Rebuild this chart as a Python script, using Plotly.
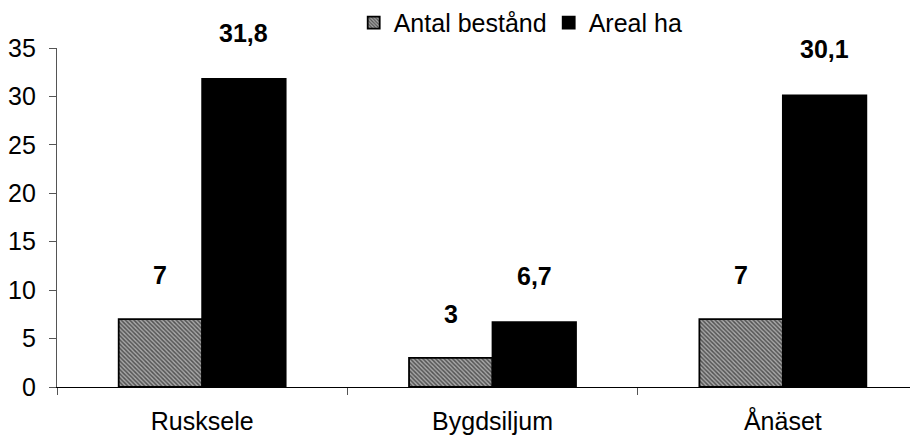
import plotly.graph_objects as go

categories = ["Rusksele", "Bygdsiljum", "Ånäset"]
antal = [7, 3, 7]
areal = [31.8, 6.7, 30.1]
antal_labels = ["7", "3", "7"]
areal_labels = ["31,8", "6,7", "30,1"]
y_ticks = [0, 5, 10, 15, 20, 25, 30, 35]

xpos = list(range(len(categories)))
FONT = "Liberation Sans, Arial, sans-serif"
FS = 25

fig = go.Figure()
fig.add_trace(go.Bar(
    x=xpos, y=antal, name="Antal bestånd",
    marker=dict(color="white", line=dict(color="black", width=1.8),
                pattern=dict(shape="\\", fgcolor="black", bgcolor="#a8a8a8",
                             size=3, solidity=0.5)),
))
fig.add_trace(go.Bar(
    x=xpos, y=areal, name="Areal ha",
    marker=dict(color="black", line=dict(color="black", width=1.8)),
))

bw = 0.2875
annotations = []
for i in xpos:
    annotations.append(dict(x=i - bw / 2, y=antal[i], text="<b>%s</b>" % antal_labels[i],
                            showarrow=False, yshift=44, xref="x", yref="y",
                            font=dict(size=FS, color="black", family=FONT)))
    annotations.append(dict(x=i + bw / 2, y=areal[i], text="<b>%s</b>" % areal_labels[i],
                            showarrow=False, yshift=46, xref="x", yref="y",
                            font=dict(size=FS, color="black", family=FONT)))

fig.update_layout(
    width=918, height=436,
    margin=dict(l=49, r=9, t=40, b=57, autoexpand=False),
    paper_bgcolor="white", plot_bgcolor="white",
    barmode="group", bargap=0.425, bargroupgap=0,
    font=dict(family=FONT, size=FS, color="black"),
    showlegend=True,
    legend=dict(orientation="h", x=0.345, xanchor="left", y=1.074, yanchor="middle",
                font=dict(size=FS), itemwidth=30, tracegroupgap=0,
                entrywidth=150, entrywidthmode="pixels",
                bgcolor="rgba(0,0,0,0)"),
    annotations=annotations,
    xaxis=dict(range=[-0.5, 2.462], tickmode="array", tickvals=xpos, ticktext=categories,
               ticks="", showline=True, linecolor="black", linewidth=1.2,
               showgrid=False, zeroline=False, automargin=False,
               tickfont=dict(size=FS), ticklabelstandoff=12,
               minor=dict(tickmode="linear", tick0=0.5, dtick=1, ticks="outside",
                          ticklen=7, tickcolor="#555555", tickwidth=1.2, showgrid=False)),
    yaxis=dict(range=[0, 35], tickmode="array", tickvals=y_ticks,
               ticks="outside", ticklen=7, tickcolor="#555555", tickwidth=1.2,
               showline=True, linecolor="#555555", linewidth=1.2, automargin=False,
               ticklabelstandoff=8,
               showgrid=False, zeroline=False, tickfont=dict(size=FS)),
)

fig.write_html("out.html")
